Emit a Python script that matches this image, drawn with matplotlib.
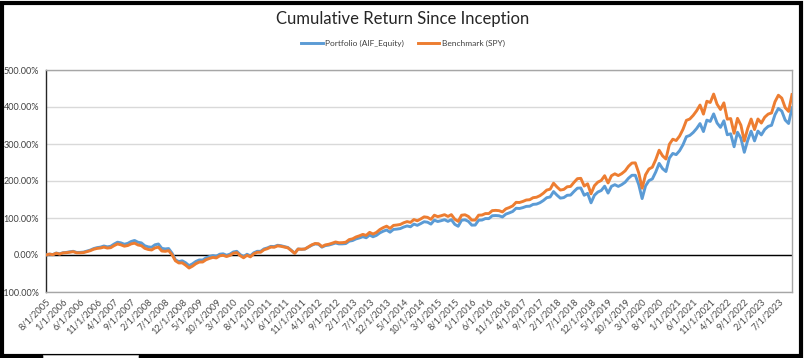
import matplotlib
matplotlib.use("Agg")
import matplotlib.pyplot as plt
import pandas as pd
from matplotlib.patches import Rectangle
from matplotlib.ticker import FuncFormatter

# monthly cumulative return (%), 8/2005 .. 11/2023
benchmark = [
    0.0, 2.5, 0.9, 4.8, 2.5,
    5.6, 6.3, 7.8, 9.0, 5.9, 5.9, 6.5, 9.1, 11.7, 15.6, 17.8, 18.9,
    21.3, 18.7, 19.8, 25.4, 29.8, 27.5, 23.8, 25.6, 30.0, 32.0, 27.1, 25.2,
    17.9, 15.0, 13.5, 19.2, 21.2, 10.7, 9.9, 11.8, 0.8, -15.7, -21.6, -21.2,
    -27.6, -35.2, -30.2, -23.5, -19.1, -18.9, -12.7, -9.3, -6.4, -8.0, -2.3, -0.8,
    -4.2, -1.1, 4.7, 6.5, -1.8, -7.5, -0.9, -5.0, 3.1, 7.3, 7.4, 14.2,
    17.1, 21.4, 20.9, 24.7, 23.5, 21.4, 19.3, 12.2, 4.3, 15.9, 15.5, 16.2,
    21.8, 27.3, 31.1, 30.4, 22.8, 27.3, 29.0, 31.9, 35.2, 33.1, 33.4, 34.5,
    41.6, 43.7, 48.7, 51.8, 55.7, 53.0, 61.2, 56.6, 61.0, 68.8, 74.0, 77.9,
    71.9, 80.0, 81.0, 82.5, 87.1, 90.3, 88.1, 95.8, 92.5, 97.4, 103.1, 101.8,
    96.3, 107.6, 103.7, 106.1, 109.0, 104.2, 109.1, 96.7, 90.9, 107.5, 108.7, 104.2,
    94.3, 94.5, 107.6, 108.0, 112.0, 111.9, 119.9, 120.6, 119.8, 116.4, 124.7, 128.2,
    132.7, 142.3, 141.9, 144.8, 148.6, 149.4, 154.9, 156.1, 160.3, 167.0, 175.5, 177.9,
    194.1, 183.9, 175.5, 177.3, 184.4, 185.3, 196.3, 206.3, 207.2, 186.4, 192.3, 165.4,
    187.3, 196.9, 201.5, 214.3, 194.7, 214.2, 219.4, 214.7, 219.8, 227.3, 239.8, 248.5,
    249.0, 222.0, 180.6, 216.7, 232.3, 237.3, 257.7, 283.2, 268.0, 259.4, 299.2, 312.9,
    309.4, 321.5, 339.8, 363.9, 367.6, 377.4, 389.8, 405.3, 380.8, 415.5, 412.2, 434.9,
    407.5, 393.3, 411.1, 367.1, 368.8, 329.1, 369.3, 350.9, 308.2, 342.1, 367.4, 339.1,
    367.6, 356.6, 372.5, 380.8, 384.0, 414.1, 431.8, 424.0, 398.2, 388.1, 433.6,
]

portfolio = [
    0.0, 2.3, 1.1, 5.3, 3.1,
    6.2, 7.0, 8.7, 10.0, 6.9, 7.0, 7.8, 10.6, 13.2, 17.4, 19.9, 21.3,
    24.3, 22.0, 23.6, 29.6, 34.6, 32.7, 29.1, 31.4, 36.5, 39.3, 34.5, 32.7,
    25.0, 21.9, 20.9, 27.6, 29.7, 17.9, 16.4, 17.4, 4.9, -13.2, -17.7, -15.7,
    -21.0, -28.8, -23.9, -17.4, -13.4, -13.7, -7.5, -4.3, -1.7, -3.4, 2.1, 3.2,
    -0.8, 2.3, 8.2, 9.9, 1.3, -4.7, 2.0, -2.3, 5.9, 10.0, 9.9, 16.5,
    19.2, 23.3, 22.8, 26.3, 25.0, 22.7, 20.3, 12.8, 4.9, 16.2, 15.5, 16.0,
    21.2, 26.4, 29.9, 29.0, 21.2, 25.4, 26.8, 29.4, 32.4, 30.0, 30.1, 30.9,
    37.4, 39.1, 43.5, 46.1, 49.5, 46.6, 53.9, 49.3, 53.0, 59.8, 64.3, 67.6,
    61.6, 69.2, 70.0, 71.4, 75.5, 78.5, 76.3, 83.5, 80.2, 84.8, 89.9, 88.7,
    83.5, 94.1, 90.5, 92.7, 95.4, 90.9, 95.5, 82.9, 77.6, 94.0, 95.1, 90.9,
    80.7, 80.9, 94.1, 94.5, 98.5, 98.3, 106.1, 106.7, 106.0, 102.8, 110.5, 113.8,
    117.6, 126.3, 125.7, 128.1, 131.4, 131.9, 136.8, 137.6, 141.3, 147.2, 154.9, 156.8,
    171.4, 161.8, 153.7, 155.1, 161.4, 161.9, 171.7, 180.6, 181.1, 161.5, 166.6, 141.0,
    161.5, 170.2, 174.3, 186.0, 167.3, 185.6, 190.0, 185.4, 190.1, 196.6, 207.5, 215.4,
    215.5, 190.4, 152.5, 186.6, 201.0, 205.6, 224.4, 247.6, 233.4, 225.6, 262.1, 274.5,
    271.3, 281.9, 298.0, 319.8, 323.2, 331.1, 341.8, 355.2, 333.7, 364.5, 361.0, 381.4,
    356.8, 345.0, 362.6, 325.0, 327.6, 292.6, 331.8, 315.8, 277.6, 309.8, 334.7, 308.4,
    334.9, 324.6, 339.4, 347.6, 350.6, 379.1, 396.1, 388.9, 364.8, 355.4, 397.8,
]

dates = pd.date_range("2005-08-01", periods=len(benchmark), freq="MS")
date_labels = ["{}/1/{}".format(d.month, d.year) for d in dates]
y_ticks = [-100, 0, 100, 200, 300, 400, 500]

plt.rcParams['font.family'] = ['Lato', 'DejaVu Sans']

fig = plt.figure(figsize=(8.06, 3.58), dpi=100)
ax = fig.add_axes([46 / 806, 1 - 292 / 358, 746 / 806, 222 / 358])

x = list(range(len(benchmark)))
ax.plot(x, portfolio, color='#5B9BD5', lw=2.1, label='Portfolio (AIF_Equity)',
        solid_joinstyle='round', zorder=3)
ax.plot(x, benchmark, color='#ED7D31', lw=2.1, label='Benchmark (SPY)',
        solid_joinstyle='round', zorder=4)

ax.set_xlim(0, len(benchmark) - 1)
ax.set_ylim(-100, 500)
ax.set_yticks(y_ticks)
ax.yaxis.set_major_formatter(FuncFormatter(lambda v, p: '{:.2f}%'.format(v)))
ax.grid(axis='y', color='#d9d9d9', lw=1.0, zorder=0)
ax.axhline(0, color='black', lw=1.0, zorder=2)

ticks = x[::5]
ax.set_xticks(ticks)
ax.set_xticklabels([date_labels[i] for i in ticks], rotation=45, ha='right',
                   rotation_mode='anchor', fontsize=6.7, color='#4a4a4a')
ax.tick_params(axis='x', length=0, pad=4)
ax.tick_params(axis='y', length=0, pad=5, labelsize=6.5, labelcolor='#404040')

for side in ['top', 'right', 'bottom']:
    ax.spines[side].set_color('#a6a6a6')
    ax.spines[side].set_linewidth(1.0)
ax.spines['left'].set_color('#262626')
ax.spines['left'].set_linewidth(1.0)

fig.text(403 / 806, 1 - 19 / 358, 'Cumulative Return Since Inception',
         ha='center', va='center', fontsize=12, color='#262626')
fig.legend(loc='center', bbox_to_anchor=(403 / 806, 1 - 43 / 358), ncol=2,
           frameon=False, fontsize=6, handlelength=2.6, handletextpad=0.3,
           columnspacing=1.6, labelcolor='#404040')

# black frame round the picture
fig.patches.append(Rectangle((2, 2), 799, 353, transform=None, fill=False,
                             edgecolor='black', lw=3.0))
fig.patches.append(Rectangle((43, 0), 95, 3, transform=None, facecolor='white',
                             edgecolor='#cccccc', lw=0.5))

fig.savefig('out.png', dpi=100)
